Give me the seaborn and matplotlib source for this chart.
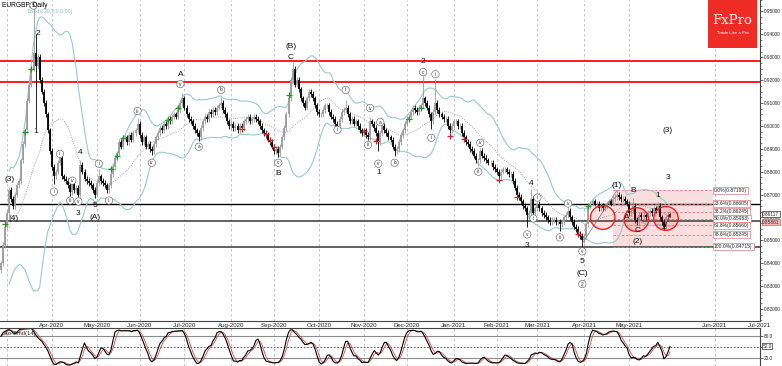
import matplotlib
matplotlib.use("Agg")
import matplotlib.pyplot as plt
import matplotlib.transforms as mtransforms
from matplotlib.patches import Ellipse, Rectangle
import numpy as np
import pandas as pd
import seaborn as sns

# ---- data (daily closes, EURGBP) ----
START, END = "2020-02-26", "2021-05-31"

close_2020_02 = [0.840, 0.848, 0.856]
close_2020_03 = [0.862, 0.872, 0.868, 0.865, 0.870, 0.874, 0.876, 0.885, 0.892, 0.898, 0.911,
                 0.918, 0.925, 0.932, 0.926, 0.930, 0.920, 0.915, 0.910, 0.905, 0.898, 0.889]
close_2020_04 = [0.882, 0.878, 0.880, 0.884, 0.886, 0.878, 0.877, 0.876, 0.874, 0.871, 0.875,
                 0.872, 0.873, 0.870, 0.883, 0.880, 0.877, 0.876, 0.875, 0.874, 0.872, 0.870]
close_2020_05 = [0.875, 0.878, 0.876, 0.875, 0.874, 0.872, 0.874, 0.879, 0.882, 0.886, 0.888,
                 0.893, 0.891, 0.895, 0.895, 0.893, 0.896, 0.894, 0.897, 0.898, 0.901]
close_2020_06 = [0.896, 0.893, 0.895, 0.891, 0.892, 0.890, 0.889, 0.892, 0.895, 0.897, 0.899,
                 0.898, 0.901, 0.900, 0.903, 0.902, 0.904, 0.905, 0.904, 0.907, 0.910, 0.912]
close_2020_07 = [0.908, 0.905, 0.903, 0.902, 0.900, 0.898, 0.897, 0.895, 0.899, 0.902, 0.904,
                 0.903, 0.906, 0.905, 0.907, 0.906, 0.908, 0.909, 0.910, 0.907, 0.905, 0.902, 0.900]
close_2020_08 = [0.901, 0.899, 0.900, 0.898, 0.900, 0.899, 0.902, 0.903, 0.904, 0.902, 0.903,
                 0.904, 0.903, 0.902, 0.900, 0.898, 0.897, 0.896, 0.894, 0.893, 0.891]
close_2020_09 = [0.889, 0.890, 0.888, 0.891, 0.895, 0.899, 0.905, 0.912, 0.920, 0.925, 0.918,
                 0.920, 0.916, 0.912, 0.910, 0.908, 0.912, 0.915, 0.914, 0.912, 0.909, 0.906]
close_2020_10 = [0.905, 0.905, 0.907, 0.909, 0.909, 0.906, 0.904, 0.903, 0.901, 0.900, 0.903,
                 0.906, 0.907, 0.908, 0.905, 0.902, 0.903, 0.901, 0.902, 0.900, 0.898, 0.897]
close_2020_11 = [0.898, 0.896, 0.895, 0.902, 0.901, 0.899, 0.897, 0.893, 0.897, 0.900, 0.898,
                 0.897, 0.895, 0.894, 0.891, 0.889, 0.890, 0.893, 0.896, 0.898, 0.901]
close_2020_12 = [0.903, 0.904, 0.906, 0.908, 0.907, 0.906, 0.908, 0.909, 0.912, 0.910, 0.908,
                 0.905, 0.902, 0.906, 0.910, 0.907, 0.905, 0.904, 0.903, 0.903, 0.900, 0.898, 0.900]
close_2021_01 = [0.902, 0.902, 0.900, 0.900, 0.897, 0.895, 0.893, 0.892, 0.890, 0.889, 0.887,
                 0.885, 0.885, 0.889, 0.887, 0.886, 0.885, 0.884, 0.884, 0.882, 0.881]
close_2021_02 = [0.880, 0.878, 0.880, 0.881, 0.881, 0.880, 0.879, 0.879, 0.876, 0.873, 0.870,
                 0.869, 0.867, 0.865, 0.864, 0.861, 0.862, 0.868, 0.862, 0.864]
close_2021_03 = [0.866, 0.864, 0.862, 0.861, 0.860, 0.859, 0.858, 0.859, 0.859, 0.858, 0.858,
                 0.857, 0.858, 0.860, 0.861, 0.863, 0.860, 0.858, 0.856, 0.855, 0.853, 0.852, 0.850]
close_2021_04 = [0.852, 0.857, 0.865, 0.866, 0.867, 0.866, 0.866, 0.864, 0.865, 0.864, 0.865,
                 0.866, 0.867, 0.866, 0.868, 0.869, 0.870, 0.869, 0.868, 0.868, 0.867, 0.866]
close_2021_05 = [0.862, 0.863, 0.865, 0.859, 0.858, 0.861, 0.860, 0.861, 0.860, 0.862, 0.863,
                 0.862, 0.864, 0.863, 0.865, 0.860, 0.858, 0.856, 0.860, 0.861, 0.8617]

# long wicks at the wave turns: bar (counted from 2 Mar 2020) -> price
spike_highs = {13: 0.952, 14: 0.940, 25: 0.8848, 36: 0.8852, 45: 0.881, 64: 0.9035,
               86: 0.9145, 105: 0.9125, 140: 0.928, 166: 0.9115, 178: 0.904, 184: 0.9013,
               204: 0.9217, 210: 0.9204, 232: 0.8904, 257: 0.8726, 275: 0.8645,
               299: 0.8719, 307: 0.8685, 319: 0.8668}
spike_lows = {14: 0.899, 23: 0.8748, 31: 0.8695, 35: 0.8692, 43: 0.8685, 49: 0.871,
              71: 0.8875, 94: 0.8935, 133: 0.8865, 162: 0.8985, 177: 0.894, 182: 0.889,
              190: 0.887, 208: 0.8987, 231: 0.8826, 255: 0.8557, 271: 0.8543, 282: 0.8472,
              309: 0.8565, 322: 0.8545}

# signal crosses (bar, price)
green_marks = [(-1, 0.857), (9, 0.8974), (12, 0.9248), (51, 0.881), (54, 0.887), (57, 0.8948),
               (79, 0.9026), (84, 0.9078), (138, 0.9135), (197, 0.903), (203, 0.908), (285, 0.8648)]
red_marks = [(115, 0.8987), (127, 0.8965), (129, 0.894), (131, 0.891), (175, 0.8978),
             (181, 0.8935), (217, 0.8957), (224, 0.8943), (241, 0.8765), (250, 0.869), (280, 0.8526)]

red_levels = [0.92826, 0.91913]
dark_levels = [0.86605, 0.85861, 0.84715]

fib_pct = ["0.0", "23.6", "38.2", "50.0", "61.8", "78.6", "100.0"]
fib_price = [0.87190, 0.86605, 0.86245, 0.85953, 0.85660, 0.85245, 0.84715]

wave_labels = [(1.5, 0.8765, "(3)"), (3, 0.8596, "(4)"), (15, 0.9405, "2"), (14, 0.8974, "1"),
               (35, 0.8617, "3"), (36, 0.8883, "4"), (43, 0.8652, "5"), (43, 0.8600, "(A)"),
               (85, 0.9226, "A"), (133, 0.8791, "B"), (139, 0.9300, "C"), (139, 0.9348, "(B)"),
               (182, 0.8796, "1"), (204, 0.9283, "2"), (255, 0.8478, "3"), (257, 0.8748, "4"),
               (282, 0.8409, "5"), (282, 0.8357, "(C)"), (299, 0.8739, "(1)"), (307, 0.8717, "B"),
               (304, 0.8600, "A"), (309, 0.8543, "C"), (309, 0.8496, "(2)"), (319, 0.8696, "1"),
               (322, 0.8557, "2"), (324, 0.8774, "3"), (324, 0.8978, "(3)")]
circled_labels = [(13, 0.9526, "5"), (282, 0.8309, "2"),
                  (23, 0.8713, "i"), (26, 0.8878, "ii"), (31, 0.8674, "iii"), (32, 0.8761, "iv"),
                  (35, 0.8670, "v"), (45, 0.8835, "i"), (50, 0.8674, "ii"), (64, 0.9065, "iii"),
                  (71, 0.8839, "iv"), (85, 0.9183, "v"), (94, 0.8909, "a"), (105, 0.9157, "b"),
                  (133, 0.8839, "c"), (162, 0.8983, "i"), (166, 0.9157, "ii"), (177, 0.8917, "iii"),
                  (178, 0.9078, "iv"), (182, 0.8835, "v"), (183, 0.9017, "a"), (190, 0.8839, "b"),
                  (204, 0.9235, "c"), (208, 0.8948, "i"), (210, 0.9226, "ii"), (231, 0.8800, "iii"),
                  (232, 0.8926, "iv"), (255, 0.8526, "v"), (258, 0.8596, "i"), (260, 0.8687, "ii"),
                  (271, 0.8513, "iii"), (275, 0.8661, "iv"), (282, 0.8452, "v")]

# red circles around the recent lows (bar, price)
circles = [(292, 0.8600), (308.5, 0.8591), (323, 0.8596)]

# ---- build the frame ----
closes = (close_2020_02 + close_2020_03 + close_2020_04 + close_2020_05 + close_2020_06 +
          close_2020_07 + close_2020_08 + close_2020_09 + close_2020_10 + close_2020_11 +
          close_2020_12 + close_2021_01 + close_2021_02 + close_2021_03 + close_2021_04 +
          close_2021_05)
dates = pd.bdate_range(START, END)
df = pd.DataFrame({"date": dates, "close": closes})
df["i"] = np.arange(len(df))
I0 = int(df.index[df["date"] == pd.Timestamp("2020-03-02")][0])   # bar 0 = 2 Mar 2020

WICK = 0.0012
df["open"] = df["close"].shift(1).fillna(df["close"].iloc[0] - 0.003)
df["high"] = df[["open", "close"]].max(axis=1) + WICK
df["low"] = df[["open", "close"]].min(axis=1) - WICK
for b, v in spike_highs.items():
    df.loc[I0 + b, "high"] = max(df.loc[I0 + b, "high"], v)
for b, v in spike_lows.items():
    df.loc[I0 + b, "low"] = min(df.loc[I0 + b, "low"], v)

# Bollinger(20, 2)
roll = df["close"].rolling(20, min_periods=5)
df["mid"] = roll.mean()
df["upper"] = df["mid"] + 2 * roll.std()
df["lower"] = df["mid"] - 2 * roll.std()

# Stochastic
N = 14
ll = df["low"].rolling(N, min_periods=1).min()
hh = df["high"].rolling(N, min_periods=1).max()
df["k"] = 100 * (df["close"] - ll).rolling(3, min_periods=1).sum() / (hh - ll).rolling(3, min_periods=1).sum()
df["d"] = df["k"].rolling(3, min_periods=1).mean()

# ---- figure ----
sns.set_theme(style="white")
plt.rcParams["font.family"] = ["Liberation Sans", "DejaVu Sans"]
AXFS = 3.4

fig = plt.figure(figsize=(7.82, 3.66), dpi=100)
ax = fig.add_axes([0.0, 45 / 366, 760 / 782, 321 / 366])
sax = fig.add_axes([0.0, 0.0, 760 / 782, 38 / 366])

XMIN, XMAX = -0.43, 372.1
ax.set_xlim(XMIN, XMAX)
ax.set_ylim(0.81478, 0.95435)

month_starts = df.groupby(df["date"].dt.to_period("M"))["i"].min()
month_starts = month_starts[month_starts > 0]
month_pos = list(month_starts.values) + [len(df) + 21, len(df) + 43]
month_names = [p.strftime("%b-%Y") for p in month_starts.index] + ["Jun-2021", "Jul-2021"]

for a in (ax, sax):
    for m in month_pos:
        a.axvline(m, color="#b8b8b8", lw=0.6, ls=(0, (3, 3)), zorder=0)

# levels
for lv in red_levels:
    ax.axhline(lv, color="#ff1a1a", lw=1.4, zorder=2)
ax.axhline(dark_levels[0], color="black", lw=1.0, zorder=2)
for lv in dark_levels[1:]:
    ax.axhline(lv, color="#555555", lw=1.3, zorder=2)

# fib box
F0, F1 = 300, 349
ax.add_patch(Rectangle((F0, fib_price[-1]), F1 - F0, fib_price[0] - fib_price[-1],
                       fc="#f3c4c4", ec="none", alpha=0.55, zorder=1))
for pct, p in zip(fib_pct, fib_price):
    ax.hlines(p, F0, F1, color="#e07b7b", lw=0.6, ls=(0, (3, 2)), zorder=2)
    ax.text(F1 + 0.6, p, f"{pct}%({p:.5f})", fontsize=3.6, va="center", ha="left",
            bbox=dict(boxstyle="square,pad=0.2", fc="white", ec="#e07b7b", lw=0.5), zorder=6)

# Bollinger bands
band = "#9cc9c9"
sns.lineplot(x=df["i"], y=df["upper"], ax=ax, color=band, lw=0.8, zorder=3)
sns.lineplot(x=df["i"], y=df["lower"], ax=ax, color=band, lw=0.8, zorder=3)
sns.lineplot(x=df["i"], y=df["mid"], ax=ax, color="#8a8a8a", lw=0.6, ls=":", zorder=3)

# candles
bull = df["close"] >= df["open"]
for mask, col in ((bull, "#9c9c9c"), (~bull, "black")):
    sub = df[mask]
    ax.vlines(sub["i"], sub["low"], sub["high"], color=col, lw=0.6, zorder=4)
    ax.vlines(sub["i"], sub[["open", "close"]].min(axis=1), sub[["open", "close"]].max(axis=1),
              color=col, lw=1.3, zorder=4)

gx = [I0 + b for b, _ in green_marks]
ax.scatter(gx, [p for _, p in green_marks], marker="+", s=14, color="#1f9a1f", lw=0.9, zorder=5)
rx = [I0 + b for b, _ in red_marks]
ax.scatter(rx, [p for _, p in red_marks], marker="+", s=14, color="#c0282b", lw=0.9, zorder=5)

# wave lines
ax.plot([I0 + 282, I0 + 299], [0.8487, 0.8719], color="#777777", lw=0.5, zorder=5)
ax.annotate("", xy=(I0 + 326, 0.8630), xytext=(I0 + 322, 0.8552),
            arrowprops=dict(arrowstyle="-|>", color="#333333", lw=0.6, mutation_scale=5), zorder=6)

for cx, cy in circles:
    ax.add_patch(Ellipse((I0 + cx, cy), 12.0, 0.0104, fc=(1, 0, 0, 0.12), ec="#ee2020",
                         lw=1.0, zorder=6))

for b, p, t in wave_labels:
    ax.text(I0 + b, p, t, fontsize=6, ha="center", va="center", color="#111111", zorder=7)
for b, p, t in circled_labels:
    ax.text(I0 + b, p, t, fontsize=3.4, ha="center", va="center", color="#222222", zorder=7,
            bbox=dict(boxstyle="circle,pad=0.25", fc="white", ec="#555555", lw=0.4))

# price axis
ax.yaxis.tick_right()
ax.set_yticks(np.arange(0.82, 0.951, 0.01))
ax.set_yticklabels([f"{v:.5f}" for v in np.arange(0.82, 0.951, 0.01)])
ax.set_yticks(np.arange(0.815, 0.955, 0.0025), minor=True)
ax.tick_params(axis="y", which="major", labelsize=AXFS, length=2, width=0.5, pad=0.5,
               right=True, colors="#222222")
ax.tick_params(axis="y", which="minor", length=1.2, width=0.4, right=True)
ax.set_xticks(month_pos[1:])
ax.set_xticklabels(month_names[1:])
ax.tick_params(axis="x", labelsize=4.4, length=0, pad=1.5, colors="#222222")
ax.set_xlabel("")
ax.set_ylabel("")

yt = mtransforms.blended_transform_factory(ax.transAxes, ax.transData)
ax.text(1.003, 0.86150, "0.86117", transform=yt, fontsize=AXFS, va="center", ha="left",
        bbox=dict(boxstyle="square,pad=0.1", fc="white", ec="#333333", lw=0.5), zorder=8)
ax.text(1.003, 0.85800, "0.85861", transform=yt, fontsize=AXFS, va="center", ha="left",
        bbox=dict(boxstyle="square,pad=0.1", fc="#f6b8b8", ec="#d06060", lw=0.5), zorder=8)

for s in ("left", "top"):
    ax.spines[s].set_visible(False)
for s in ("right", "bottom"):
    ax.spines[s].set_color("#444444")
    ax.spines[s].set_linewidth(0.8)

ax.text(0.003, 0.995, "EURGBP, Daily", transform=ax.transAxes, fontsize=4.8, va="top",
        ha="left", color="black", zorder=9)
ax.text(0.036, 0.972, "Bands(20,2.0,0.00)", transform=ax.transAxes, fontsize=3.8, va="top",
        ha="left", color="#8fbfbf", zorder=9)

# logo
ax.add_patch(Rectangle((708 / 760, 1 - 48 / 321), 49 / 760, 48 / 321, transform=ax.transAxes,
                       fc="#ee2b25", ec="none", zorder=9))
ax.text(732.5 / 760, 1 - 21 / 321, "FxPro", transform=ax.transAxes, fontsize=9.5, color="white",
        family="DejaVu Serif", ha="center", va="center", zorder=10)
ax.text(732.5 / 760, 1 - 33 / 321, "Trade Like a Pro", transform=ax.transAxes, fontsize=3.2,
        color="white", ha="center", va="center", zorder=10)

# stochastic panel
sax.set_xlim(XMIN, XMAX)
sax.set_ylim(0, 100)
for lv in (80, 20):
    sax.axhline(lv, color="#8c8c8c", lw=0.8)
sax.axhline(50, color="#444444", lw=0.6, ls=(0, (2, 2)))
sns.lineplot(x=df["i"], y=df["d"], ax=sax, color="#d24a4a", lw=0.6)
sns.lineplot(x=df["i"], y=df["k"], ax=sax, color="black", lw=0.8)
sax.yaxis.tick_right()
sax.set_yticks([20, 50, 80])
sax.set_yticklabels(["20.0", "50.0", "80.0"])
sax.tick_params(axis="y", labelsize=AXFS, length=2, width=0.5, pad=0.5, colors="#222222")
sax.set_xticks([])
sax.set_xlabel("")
sax.set_ylabel("")
last_k = df["k"].iloc[-1]
st = mtransforms.blended_transform_factory(sax.transAxes, sax.transData)
sax.text(1.003, last_k, f"{last_k:.1f}", transform=st, fontsize=AXFS, va="center", ha="left",
         bbox=dict(boxstyle="square,pad=0.1", fc="white", ec="#333333", lw=0.5))
sax.text(0.003, 0.93, "Sto-Smd(14)", transform=sax.transAxes, fontsize=4.2, va="top", ha="left")
sax.spines["left"].set_visible(False)
for s in ("right", "bottom", "top"):
    sax.spines[s].set_color("#444444")
    sax.spines[s].set_linewidth(0.8)

fig.savefig("out.png", dpi=100)
